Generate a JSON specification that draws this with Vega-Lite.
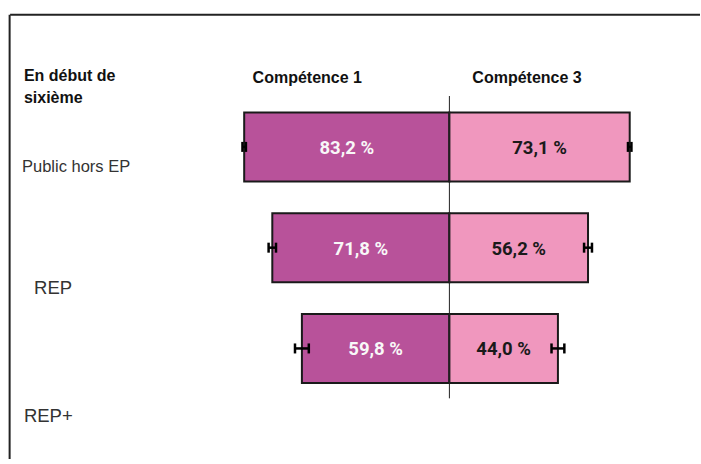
{
  "$schema": "https://vega.github.io/schema/vega-lite/v6.json",
  "width": 701,
  "height": 464,
  "padding": 0,
  "autosize": {"type": "fit", "contains": "padding"},
  "background": "#ffffff",
  "config": {"view": {"stroke": null}},
  "datasets": {
    "bars": [
      {"row": 1, "comp": "Compétence 1", "start": 0, "end": -83.2, "lo": -83.9, "hi": -82.5, "label": "83,2 %"},
      {"row": 1, "comp": "Compétence 3", "start": 0, "end": 73.1, "lo": 72.4, "hi": 73.8, "label": "73,1 %"},
      {"row": 2, "comp": "Compétence 1", "start": 0, "end": -71.8, "lo": -73.3, "hi": -70.3, "label": "71,8 %"},
      {"row": 2, "comp": "Compétence 3", "start": 0, "end": 56.2, "lo": 54.6, "hi": 57.8, "label": "56,2 %"},
      {"row": 3, "comp": "Compétence 1", "start": 0, "end": -59.8, "lo": -62.6, "hi": -57.0, "label": "59,8 %"},
      {"row": 3, "comp": "Compétence 3", "start": 0, "end": 44.0, "lo": 41.4, "hi": 46.6, "label": "44,0 %"}
    ],
    "frame": [
      {"x": -178.1, "x2": 101.6, "y": -0.311, "y2": -0.311},
      {"x": -178.3, "x2": -178.3, "y": -0.311, "y2": 4.097}
    ],
    "center": [{"x": 0, "y": 0.495, "y2": 3.495}],
    "headers": [
      {"text": "En début de", "x": -172.5, "y": 0.35},
      {"text": "sixième", "x": -172.5, "y": 0.563},
      {"text": "Compétence 1", "x": -79.8, "y": 0.369},
      {"text": "Compétence 3", "x": 9.3, "y": 0.369}
    ],
    "groups": [
      {"text": "Public hors EP", "x": -173.3, "y": 1.252, "font": "Liberation Sans", "size": 16.5},
      {"text": "REP", "x": -168.4, "y": 2.456, "font": "Roboto", "size": 18.5},
      {"text": "REP+", "x": -172.5, "y": 3.728, "font": "Roboto", "size": 18.5}
    ]
  },
  "layer": [
    {
      "data": {"name": "frame"},
      "mark": {"type": "rule", "color": "#222222", "strokeWidth": 2},
      "encoding": {
        "x": {"field": "x", "type": "quantitative", "scale": {"domain": [-182.2, 101.6], "nice": false, "zero": false}, "axis": null},
        "x2": {"field": "x2"},
        "y": {"field": "y", "type": "quantitative", "scale": {"domain": [-0.408, 4.097], "reverse": true, "nice": false, "zero": false}, "axis": null},
        "y2": {"field": "y2"}
      }
    },
    {
      "data": {"name": "bars"},
      "mark": {"type": "bar", "height": 69, "stroke": "#1a1a1a", "strokeWidth": 2, "orient": "horizontal"},
      "encoding": {
        "x": {"field": "end", "type": "quantitative"},
        "x2": {"field": "start"},
        "y": {"field": "row", "type": "quantitative"},
        "color": {"field": "comp", "type": "nominal", "scale": {"domain": ["Compétence 1", "Compétence 3"], "range": ["#b8529a", "#f097be"]}, "legend": null}
      }
    },
    {
      "data": {"name": "center"},
      "mark": {"type": "rule", "color": "#222222", "strokeWidth": 1},
      "encoding": {
        "x": {"field": "x", "type": "quantitative"},
        "y": {"field": "y", "type": "quantitative"},
        "y2": {"field": "y2"}
      }
    },
    {
      "data": {"name": "bars"},
      "mark": {"type": "rule", "color": "#000000", "strokeWidth": 2.5},
      "encoding": {
        "x": {"field": "lo", "type": "quantitative"},
        "x2": {"field": "hi"},
        "y": {"field": "row", "type": "quantitative"}
      }
    },
    {
      "data": {"name": "bars"},
      "mark": {"type": "tick", "orient": "vertical", "color": "#000000", "size": 10, "thickness": 2.5, "opacity": 1},
      "encoding": {
        "x": {"field": "lo", "type": "quantitative"},
        "y": {"field": "row", "type": "quantitative"}
      }
    },
    {
      "data": {"name": "bars"},
      "mark": {"type": "tick", "orient": "vertical", "color": "#000000", "size": 10, "thickness": 2.5, "opacity": 1},
      "encoding": {
        "x": {"field": "hi", "type": "quantitative"},
        "y": {"field": "row", "type": "quantitative"}
      }
    },
    {
      "data": {"name": "bars"},
      "transform": [{"filter": "datum.comp === 'Compétence 1'"}, {"calculate": "datum.end / 2", "as": "mid"}],
      "mark": {"type": "text", "font": "Roboto", "fontWeight": "bold", "fontSize": 18.5, "baseline": "middle", "align": "center", "dy": 1, "color": "#f8f8f8"},
      "encoding": {
        "x": {"field": "mid", "type": "quantitative"},
        "y": {"field": "row", "type": "quantitative"},
        "text": {"field": "label"}
      }
    },
    {
      "data": {"name": "bars"},
      "transform": [{"filter": "datum.comp === 'Compétence 3'"}, {"calculate": "datum.end / 2", "as": "mid"}],
      "mark": {"type": "text", "font": "Roboto", "fontWeight": "bold", "fontSize": 18.5, "baseline": "middle", "align": "center", "dy": 1, "color": "#1a1a1a"},
      "encoding": {
        "x": {"field": "mid", "type": "quantitative"},
        "y": {"field": "row", "type": "quantitative"},
        "text": {"field": "label"}
      }
    },
    {
      "data": {"name": "headers"},
      "mark": {"type": "text", "font": "Liberation Sans", "fontWeight": "bold", "fontSize": 16, "baseline": "alphabetic", "align": "left", "color": "#111111"},
      "encoding": {
        "x": {"field": "x", "type": "quantitative"},
        "y": {"field": "y", "type": "quantitative"},
        "text": {"field": "text"}
      }
    },
    {
      "data": {"name": "groups"},
      "mark": {"type": "text", "baseline": "alphabetic", "align": "left", "color": "#333333"},
      "encoding": {
        "x": {"field": "x", "type": "quantitative"},
        "y": {"field": "y", "type": "quantitative"},
        "text": {"field": "text"},
        "font": {"field": "font"},
        "size": {"field": "size", "type": "quantitative", "scale": null}
      }
    }
  ]
}
